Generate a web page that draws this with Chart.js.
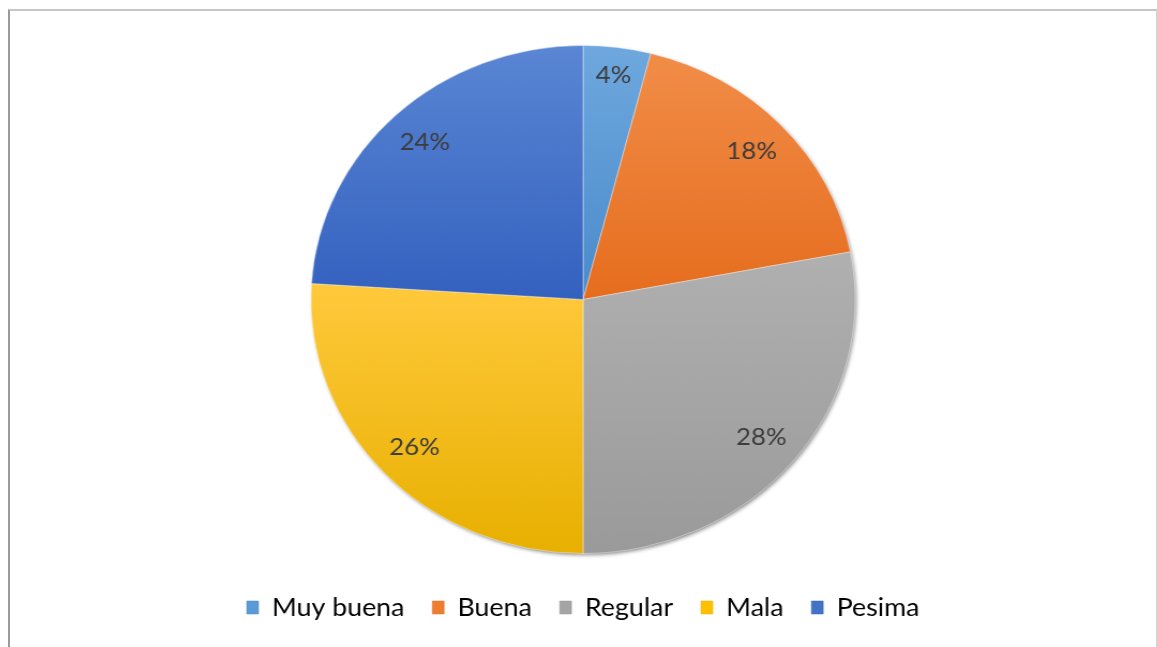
<!DOCTYPE html>
<html lang="es">
<head>
<meta charset="UTF-8">
<title>Opinion</title>
<script src="https://cdn.jsdelivr.net/npm/chart.js"></script>
<style>
    body {
        margin: 0;
        background: #ffffff;
        width: 1157px;
        height: 647px;
        overflow: hidden;
        position: relative;
    }

    /* marco gris del grafico */
    .marco {
        position: absolute;
        left: 8px;
        top: 9px;
        width: 1146px;
        height: 660px;
        border-top: 2px solid #c6c6c6;
        border-left: 2px solid #9a9a9a;
        border-right: 1px solid #d4d4d4;
    }

    /* la imagen original esta estirada a lo ancho */
    .cajaGrafico {
        position: absolute;
        left: 10px;
        top: 0;
        width: 1070px;
        height: 647px;
        transform: scaleX(1.0712);
        transform-origin: 0 0;
    }
</style>
</head>
<body>

<div class="marco"></div>
<div class="cajaGrafico">
    <canvas id="graficoOpinion"></canvas>
</div>

<script>
    const etiquetas = ['Muy buena', 'Buena', 'Regular', 'Mala', 'Pesima'];
    const valores = [4, 18, 28, 26, 24];

    const colores = ['#5B9BD5', '#ED7D31', '#A5A5A5', '#FFC000', '#4472C4'];
    const coloresClaros = ['#6EA8DE', '#F18D48', '#B0B0B0', '#FFC93C', '#5A86D4'];
    const coloresOscuros = ['#4A8ACB', '#E66D1E', '#9A9A9A', '#E8B000', '#3461BF'];

    const RADIO = 254;
    const total = valores.reduce((a, b) => a + b, 0);

    // degradado vertical de cada porcion (como en Excel)
    function f_degradado(c) {
        const i = c.dataIndex;
        const area = c.chart.chartArea;
        if (!area || i === undefined) {
            return colores[i];
        }
        const cy = (area.top + area.bottom) / 2;
        let ini = -Math.PI / 2;
        for (let k = 0; k < i; k++) {
            ini += valores[k] / total * 2 * Math.PI;
        }
        const fin = ini + valores[i] / total * 2 * Math.PI;
        const ys = [cy, cy + RADIO * Math.sin(ini), cy + RADIO * Math.sin(fin)];
        if (ini <= Math.PI / 2 && fin >= Math.PI / 2) ys.push(cy + RADIO);
        const g = c.chart.ctx.createLinearGradient(0, Math.min(...ys), 0, Math.max(...ys));
        g.addColorStop(0, coloresClaros[i]);
        g.addColorStop(1, coloresOscuros[i]);
        return g;
    }

    // sombra bajo el pastel
    const sombra = {
        id: 'sombra',
        beforeDatasetsDraw(chart) {
            const arc = chart.getDatasetMeta(0).data[0];
            if (!arc) return;
            const ctx = chart.ctx;
            ctx.save();
            ctx.shadowColor = 'rgba(0,0,0,0.55)';
            ctx.shadowBlur = 4;
            ctx.shadowOffsetX = 1.5;
            ctx.shadowOffsetY = 2;
            ctx.beginPath();
            ctx.arc(arc.x, arc.y, arc.outerRadius - 1, 0, 2 * Math.PI);
            ctx.fillStyle = '#999999';
            ctx.fill();
            ctx.restore();
        }
    };

    // porcentajes dentro de cada porcion
    const porcentajes = {
        id: 'porcentajes',
        afterDatasetsDraw(chart) {
            const ctx = chart.ctx;
            const meta = chart.getDatasetMeta(0);
            ctx.save();
            ctx.font = '24px Lato';
            ctx.fillStyle = '#3c3c3c';
            ctx.textAlign = 'center';
            ctx.textBaseline = 'middle';
            meta.data.forEach((arc, i) => {
                const mid = (arc.startAngle + arc.endAngle) / 2;
                // porciones estrechas: etiqueta mas hacia el borde
                const f = (arc.endAngle - arc.startAngle) < 0.4 ? 0.89 : 0.85;
                const d = arc.outerRadius * f;
                ctx.fillText(Math.round(valores[i] / total * 100) + '%',
                    arc.x + Math.cos(mid) * d, arc.y + Math.sin(mid) * d);
            });
            ctx.restore();
        }
    };

    Chart.defaults.font.family = 'Lato';

    new Chart(document.getElementById('graficoOpinion'), {
        type: 'pie',
        data: {
            labels: etiquetas,
            datasets: [{
                data: valores,
                backgroundColor: f_degradado,
                borderColor: 'rgba(255,255,255,0.4)',
                borderWidth: 1,
                radius: RADIO
            }]
        },
        options: {
            responsive: true,
            maintainAspectRatio: false,
            animation: false,
            layout: {
                padding: { top: 30, bottom: 17, left: 0, right: 0 }
            },
            plugins: {
                tooltip: { enabled: false },
                legend: {
                    position: 'bottom',
                    labels: {
                        color: '#3c3c3c',
                        font: { family: 'Lato', size: 25 },
                        boxWidth: 11,
                        boxHeight: 13,
                        padding: 26,
                        generateLabels: () => etiquetas.map((t, i) => ({
                            text: t,
                            fillStyle: colores[i],
                            strokeStyle: coloresOscuros[i],
                            lineWidth: 0.5,
                            hidden: false,
                            index: i
                        }))
                    }
                }
            }
        },
        plugins: [sombra, porcentajes]
    });
</script>

</body>
</html>
